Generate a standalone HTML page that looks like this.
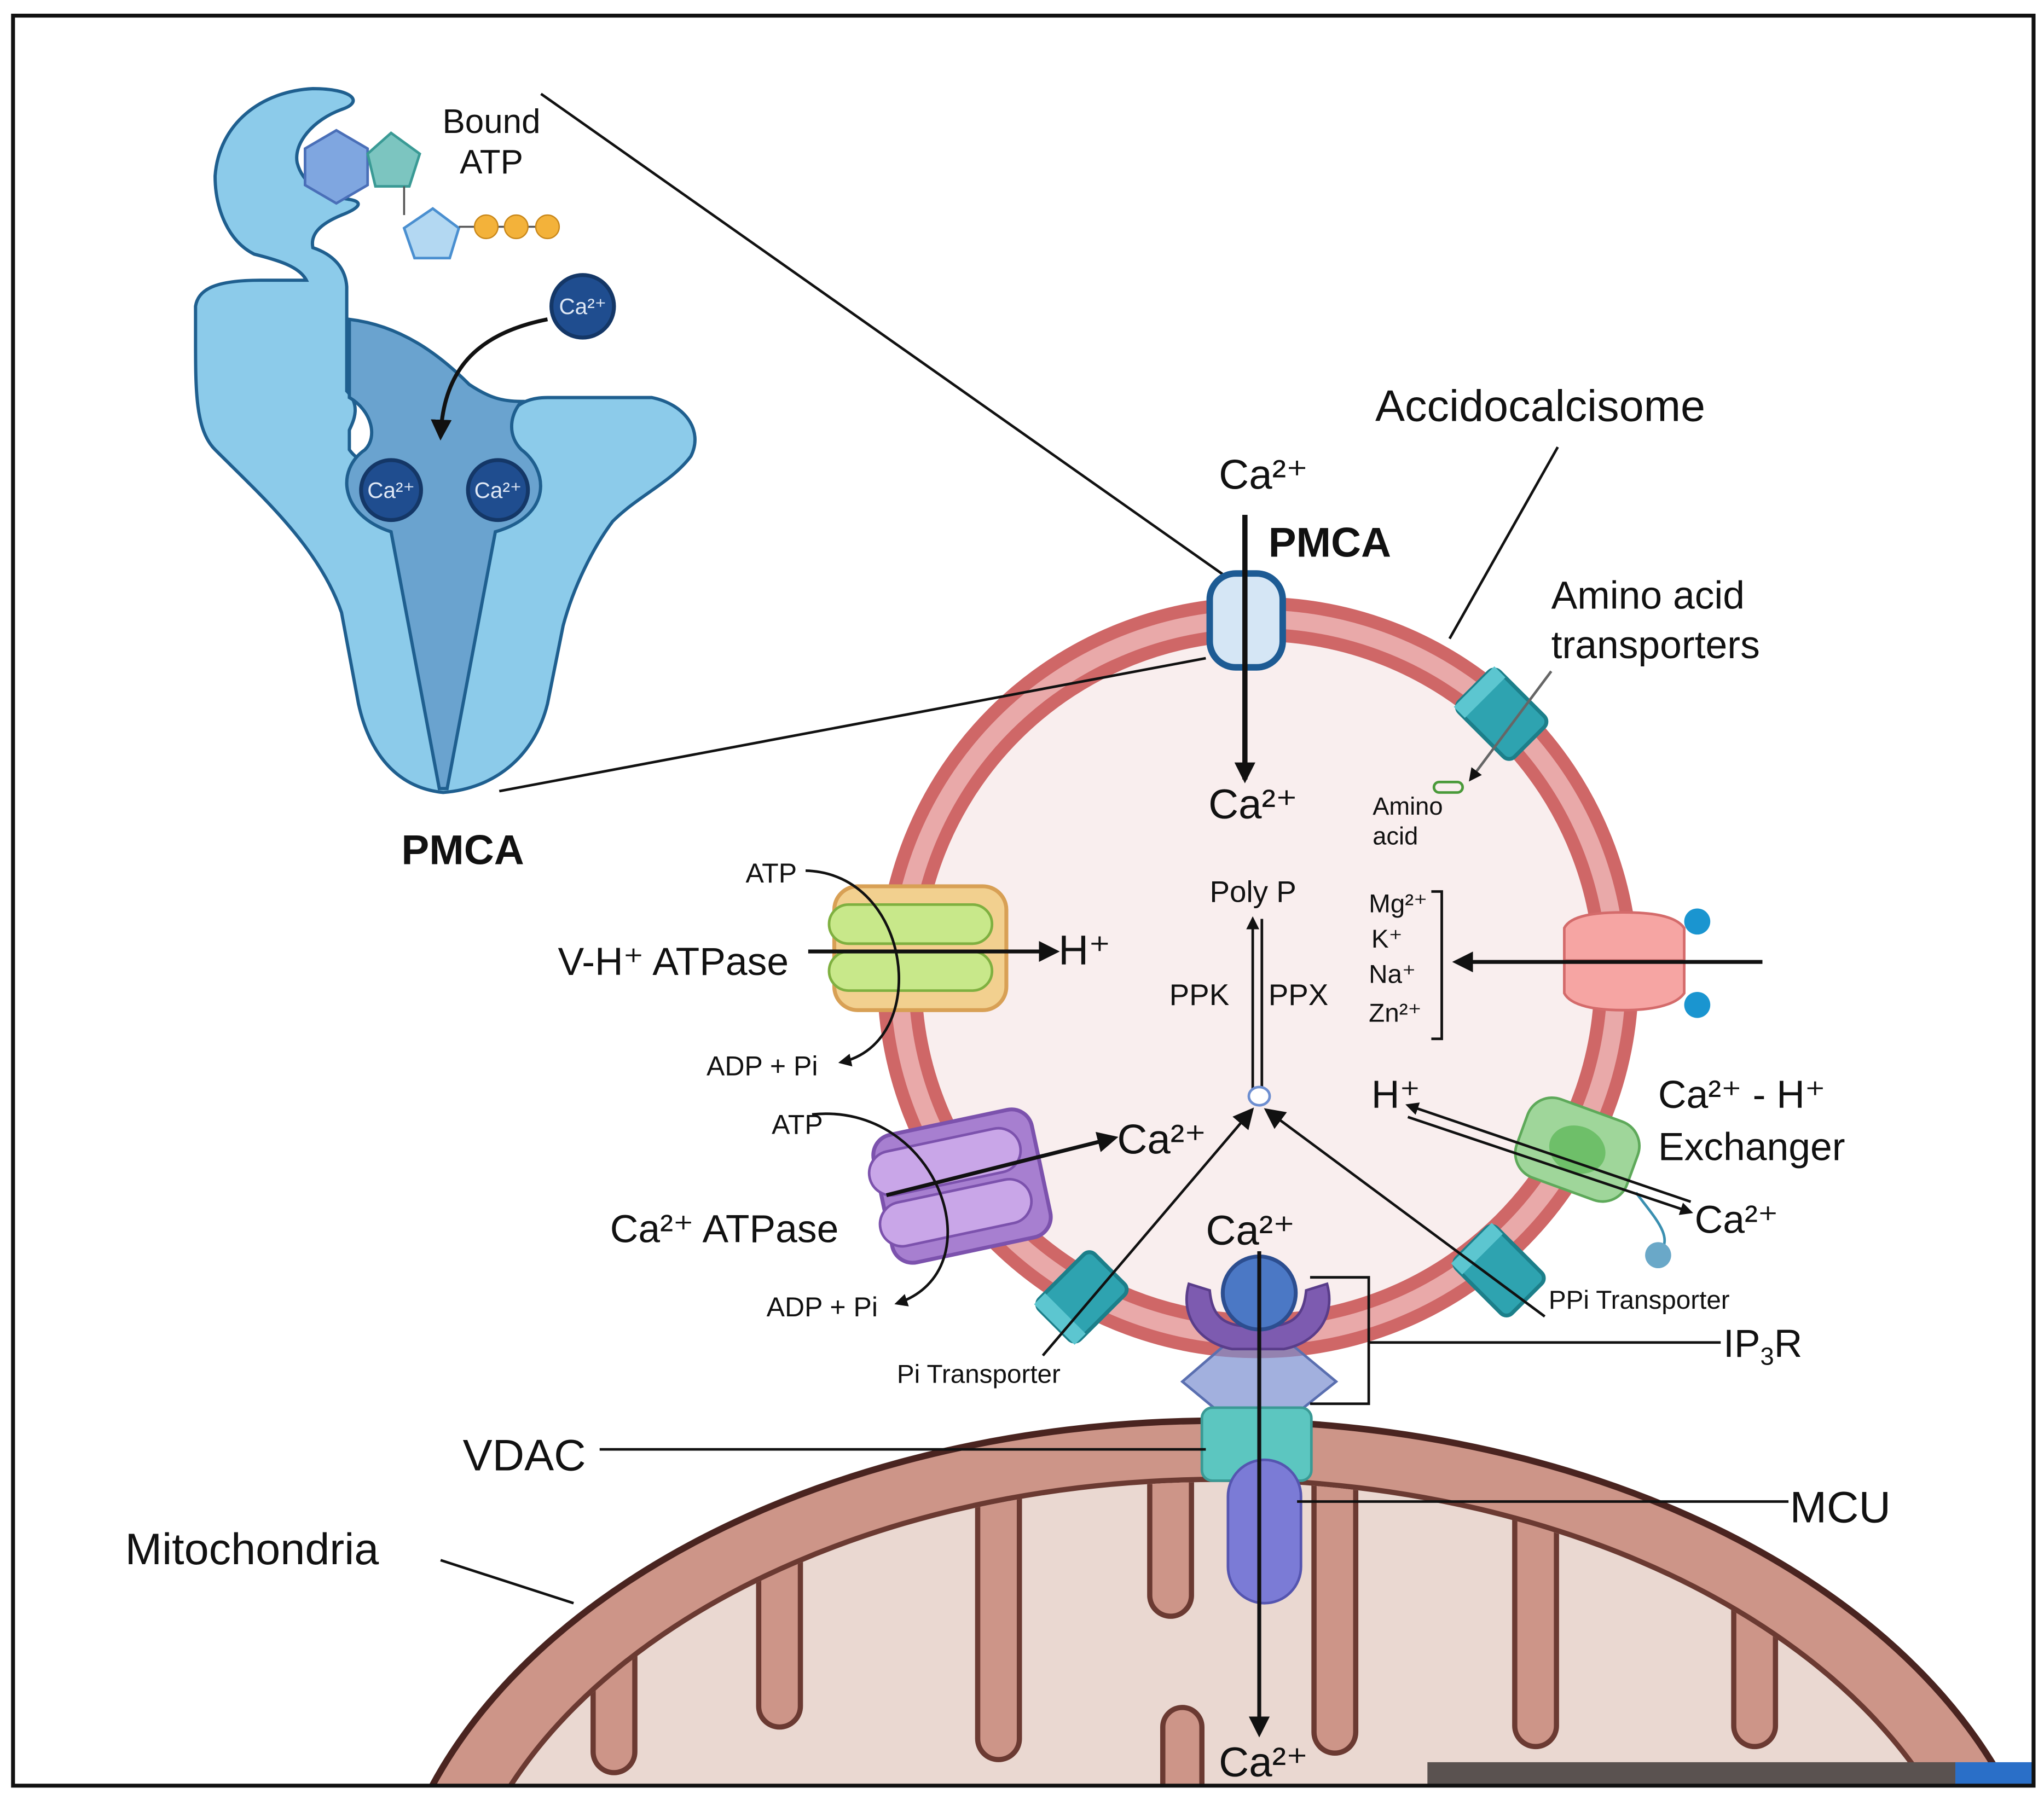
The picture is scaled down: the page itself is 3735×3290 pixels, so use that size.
<!DOCTYPE html>
<html><head><meta charset="utf-8"><style>
html,body{margin:0;padding:0;background:#fff;width:3735px;height:3290px;overflow:hidden}
svg{display:block}
text{font-family:"Liberation Sans",sans-serif;fill:#111}
</style></head><body>
<svg width="3735" height="3290" viewBox="0 0 1568 1381" preserveAspectRatio="none" xmlns="http://www.w3.org/2000/svg">
<defs>
<marker id="ah" markerWidth="10" markerHeight="10" refX="8" refY="5" orient="auto" markerUnits="userSpaceOnUse"><path d="M0,0 L10,5 L0,10 Z" fill="#111"/></marker>
<marker id="ahb" markerWidth="16" markerHeight="16" refX="13" refY="8" orient="auto" markerUnits="userSpaceOnUse"><path d="M0,0 L16,8 L0,16 Z" fill="#111"/></marker>
<clipPath id="frame"><rect x="10" y="12" width="1550" height="1358"/></clipPath>
<clipPath id="inner"><ellipse cx="935" cy="1520" rx="588" ry="383"/></clipPath>
</defs>
<rect width="1568" height="1381" fill="#fff"/>

<!-- Mitochondria -->
<g clip-path="url(#frame)">
<ellipse cx="935" cy="1510" rx="640" ry="420" fill="#cd9588" stroke="#4a2420" stroke-width="5"/>
<ellipse cx="935" cy="1520" rx="590" ry="385" fill="#ead8d1" stroke="#6b3a32" stroke-width="4"/>
<g clip-path="url(#inner)" fill="#cd9588" stroke="#6b3a32" stroke-width="4">
<rect x="455" y="1100" width="32" height="260" rx="16"/>
<rect x="582" y="1060" width="32" height="265" rx="16"/>
<rect x="750" y="1060" width="32" height="290" rx="16"/>
<rect x="882" y="1060" width="32" height="180" rx="16"/>
<rect x="1008" y="1060" width="32" height="285" rx="16"/>
<rect x="1162" y="1060" width="32" height="280" rx="16"/>
<rect x="1330" y="1100" width="32" height="240" rx="16"/>
<rect x="892" y="1310" width="30" height="120" rx="15"/>
</g>
<rect x="1095" y="1352" width="405" height="18" fill="#5a5250"/>
<rect x="1500" y="1352" width="60" height="18" fill="#2a6fc8"/>
</g>

<!-- Acidocalcisome -->
<circle cx="965" cy="750" r="275" fill="#f9eeee" stroke="#cf6767" stroke-width="34"/>
<circle cx="965" cy="750" r="275" fill="none" stroke="#e9a9a9" stroke-width="14"/>

<!-- zoom lines -->
<line x1="415" y1="72" x2="940" y2="442" stroke="#111" stroke-width="2"/>
<line x1="383" y1="607" x2="925" y2="505" stroke="#111" stroke-width="2"/>

<!-- PMCA big -->
<path d="M340,608 C310,605 285,585 275,540 L262,470 C245,420 200,380 165,345 C150,330 150,300 150,260 L150,235 C152,222 165,215 200,215 L235,215 C230,205 215,200 195,195 C175,185 165,160 165,135 C168,95 200,70 240,68 C270,68 280,78 262,84 C240,92 225,110 228,125 C232,140 245,150 268,153 C280,155 275,160 262,165 C245,172 238,180 240,190 C255,195 265,205 266,220 L266,300 C278,312 270,325 268,330 L268,345 C275,355 290,360 300,360 L390,340 C385,320 395,305 420,305 L500,305 C525,310 540,330 530,350 C515,370 490,380 470,400 C455,420 440,450 432,480 L420,540 C410,580 380,605 340,608 Z" fill="#8ccbea" stroke="#1f5f8f" stroke-width="2.5"/>
<path d="M268,245 C310,250 340,275 360,295 C375,305 385,308 400,308 C390,320 390,335 400,345 C420,360 425,395 380,408 L343,605 L337,605 L300,408 C260,395 258,360 280,345 C290,335 285,315 268,305 Z" fill="#6aa3cf" stroke="#1f5f8f" stroke-width="2.5"/>
<circle cx="300" cy="376" r="23" fill="#1f4d8f" stroke="#143767" stroke-width="3"/>
<circle cx="382" cy="376" r="23" fill="#1f4d8f" stroke="#143767" stroke-width="3"/>
<circle cx="447" cy="235" r="24" fill="#1f4d8f" stroke="#143767" stroke-width="3"/>
<text x="300" y="382" font-size="17" text-anchor="middle" style="fill:#dfe8f5">Ca²⁺</text>
<text x="382" y="382" font-size="17" text-anchor="middle" style="fill:#dfe8f5">Ca²⁺</text>
<text x="447" y="241" font-size="17" text-anchor="middle" style="fill:#dfe8f5">Ca²⁺</text>
<path d="M420,245 C370,255 340,280 338,335" fill="none" stroke="#111" stroke-width="3" marker-end="url(#ahb)"/>
<polygon points="258,100 282,114 282,142 258,156 234,142 234,114" fill="#7fa6e0" stroke="#4a6fb8" stroke-width="2"/>
<polygon points="300,102 322,118 314,143 288,143 282,118" fill="#7cc5c0" stroke="#3a9a95" stroke-width="2"/>
<line x1="310" y1="143" x2="310" y2="165" stroke="#555" stroke-width="1.5"/>
<polygon points="332,160 352,175 345,198 318,198 310,175" fill="#b3d8f2" stroke="#4a8fd0" stroke-width="2"/>
<line x1="352" y1="174" x2="422" y2="174" stroke="#555" stroke-width="1.5"/>
<circle cx="373" cy="174" r="9" fill="#f3b23a" stroke="#c8871a"/>
<circle cx="396" cy="174" r="9" fill="#f3b23a" stroke="#c8871a"/>
<circle cx="420" cy="174" r="9" fill="#f3b23a" stroke="#c8871a"/>
<text x="377" y="102" font-size="26" text-anchor="middle">Bound</text>
<text x="377" y="133" font-size="26" text-anchor="middle">ATP</text>
<text x="355" y="663" font-size="32" font-weight="bold" text-anchor="middle">PMCA</text>

<!-- PMCA small on membrane -->
<rect x="928" y="440" width="56" height="72" rx="20" fill="#d5e6f5" stroke="#1d5b94" stroke-width="5"/>
<line x1="955" y1="395" x2="955" y2="598" stroke="#111" stroke-width="4" marker-end="url(#ahb)"/>
<text x="935" y="375" font-size="32">Ca²⁺</text>
<text x="973" y="427" font-size="32" font-weight="bold">PMCA</text>
<text x="927" y="628" font-size="32">Ca²⁺</text>
<text x="1055" y="323" font-size="34">Accidocalcisome</text>
<line x1="1195" y1="343" x2="1112" y2="490" stroke="#111" stroke-width="2"/>

<!-- teal transporters -->
<g transform="translate(1152,548) rotate(45)"><rect x="-30" y="-22" width="60" height="44" rx="6" fill="#2ea3b0" stroke="#1c7f8a" stroke-width="3"/><rect x="-30" y="-22" width="12" height="44" fill="#5cc6d0"/></g>
<g transform="translate(830,995) rotate(-45)"><rect x="-30" y="-22" width="60" height="44" rx="6" fill="#2ea3b0" stroke="#1c7f8a" stroke-width="3"/><rect x="-30" y="-22" width="12" height="44" fill="#5cc6d0"/></g>
<g transform="translate(1150,975) rotate(45)"><rect x="-30" y="-22" width="60" height="44" rx="6" fill="#2ea3b0" stroke="#1c7f8a" stroke-width="3"/><rect x="-30" y="-22" width="12" height="44" fill="#5cc6d0"/></g>
<line x1="1190" y1="515" x2="1128" y2="598" stroke="#666" stroke-width="2" marker-end="url(#ah)"/>
<rect x="1100" y="600" width="22" height="8" rx="4" fill="none" stroke="#4a9a3a" stroke-width="2"/>
<text x="1190" y="467" font-size="30">Amino acid</text>
<text x="1190" y="505" font-size="30">transporters</text>
<text x="1053" y="625" font-size="19">Amino</text>
<text x="1053" y="648" font-size="19">acid</text>

<!-- V-H+ ATPase -->
<rect x="640" y="680" width="132" height="95" rx="18" fill="#f2d08f" stroke="#d8a055" stroke-width="3"/>
<rect x="636" y="694" width="125" height="30" rx="15" fill="#c8e88a" stroke="#7fb040" stroke-width="2"/>
<rect x="636" y="730" width="125" height="30" rx="15" fill="#c8e88a" stroke="#7fb040" stroke-width="2"/>
<line x1="620" y1="730" x2="810" y2="730" stroke="#111" stroke-width="3" marker-end="url(#ahb)"/>
<path d="M618,668 C700,670 715,800 645,815" fill="none" stroke="#111" stroke-width="2" marker-end="url(#ah)"/>
<text x="572" y="677" font-size="21">ATP</text>
<text x="542" y="825" font-size="21">ADP + Pi</text>
<text x="428" y="748" font-size="30">V-H⁺ ATPase</text>
<text x="812" y="740" font-size="32">H⁺</text>

<!-- Ca ATPase -->
<g transform="translate(738,910) rotate(-12)">
<rect x="-62" y="-50" width="124" height="100" rx="16" fill="#a77fd0" stroke="#7c52ad" stroke-width="3"/>
<rect x="-68" y="-38" width="118" height="34" rx="17" fill="#c9a6e8" stroke="#7c52ad" stroke-width="2"/>
<rect x="-68" y="2" width="118" height="34" rx="17" fill="#c9a6e8" stroke="#7c52ad" stroke-width="2"/>
</g>
<line x1="680" y1="917" x2="855" y2="873" stroke="#111" stroke-width="3" marker-end="url(#ahb)"/>
<path d="M623,855 C720,845 765,975 688,1000" fill="none" stroke="#111" stroke-width="2" marker-end="url(#ah)"/>
<text x="592" y="870" font-size="21">ATP</text>
<text x="588" y="1010" font-size="21">ADP + Pi</text>
<text x="468" y="953" font-size="30">Ca²⁺ ATPase</text>
<text x="857" y="885" font-size="32">Ca²⁺</text>

<!-- Poly P -->
<text x="928" y="692" font-size="23">Poly P</text>
<line x1="961" y1="845" x2="961" y2="705" stroke="#111" stroke-width="2" marker-end="url(#ah)"/>
<line x1="968" y1="705" x2="968" y2="845" stroke="#111" stroke-width="2" marker-end="url(#ah)"/>
<text x="897" y="771" font-size="23">PPK</text>
<text x="973" y="771" font-size="23">PPX</text>
<ellipse cx="966" cy="841" rx="8" ry="7" fill="#fff" stroke="#6d8ed0" stroke-width="2"/>
<line x1="800" y1="1040" x2="960" y2="852" stroke="#111" stroke-width="2" marker-end="url(#ahb)"/>
<line x1="1185" y1="1010" x2="972" y2="852" stroke="#111" stroke-width="2" marker-end="url(#ahb)"/>
<text x="688" y="1061" font-size="20">Pi Transporter</text>
<text x="1188" y="1004" font-size="20">PPi Transporter</text>

<!-- ion bracket -->
<text x="1050" y="700" font-size="20">Mg²⁺</text>
<text x="1052" y="727" font-size="20">K⁺</text>
<text x="1050" y="754" font-size="20">Na⁺</text>
<text x="1050" y="784" font-size="20">Zn²⁺</text>
<path d="M1098,684 L1106,684 L1106,797 L1098,797" fill="none" stroke="#111" stroke-width="2"/>
<path d="M1245,700 C1225,700 1205,702 1200,712 L1200,762 C1205,772 1225,775 1245,775 C1265,775 1285,772 1292,762 L1292,712 C1285,702 1265,700 1245,700 Z" fill="#f6a5a3" stroke="#d46b6b" stroke-width="2"/>
<line x1="1200" y1="737" x2="1292" y2="737" stroke="#d46b6b" stroke-width="2"/>
<circle cx="1302" cy="707" r="10" fill="#1a95d0"/>
<circle cx="1302" cy="771" r="10" fill="#1a95d0"/>
<line x1="1352" y1="738" x2="1117" y2="738" stroke="#111" stroke-width="3" marker-end="url(#ahb)"/>

<!-- Ca-H exchanger -->
<g transform="translate(1210,882) rotate(20)"><rect x="-45" y="-32" width="90" height="64" rx="20" fill="#9fd69a" stroke="#5ea95a" stroke-width="2"/><ellipse cx="0" cy="0" rx="22" ry="18" fill="#6ebf69"/></g>
<path d="M1255,915 C1270,935 1285,950 1272,962" fill="none" stroke="#3a8fb0" stroke-width="2"/>
<circle cx="1272" cy="963" r="10" fill="#6aa8c8"/>
<line x1="1297" y1="922" x2="1080" y2="848" stroke="#111" stroke-width="2" marker-end="url(#ah)"/>
<line x1="1080" y1="857" x2="1297" y2="930" stroke="#111" stroke-width="2" marker-end="url(#ah)"/>
<text x="1052" y="850" font-size="30">H⁺</text>
<text x="1300" y="946" font-size="30">Ca²⁺</text>
<text x="1272" y="850" font-size="30">Ca²⁺ - H⁺</text>
<text x="1272" y="890" font-size="30">Exchanger</text>

<!-- IP3R / VDAC / MCU -->
<polygon points="965,1010 1025,1060 965,1108 907,1060" fill="#7a8fd0" fill-opacity="0.7" stroke="#5a6fb0" stroke-width="2"/>
<path d="M912,985 C905,1010 920,1030 945,1035 L985,1035 C1010,1030 1025,1010 1018,985 L1002,990 C1000,1012 990,1018 965,1018 C940,1018 930,1012 928,990 Z" fill="#7d5bb0" stroke="#5a3d8a" stroke-width="2"/>
<circle cx="966" cy="992" r="28" fill="#4b78c5" stroke="#2c4e90" stroke-width="3"/>
<rect x="922" y="1080" width="84" height="56" rx="8" fill="#5cc6c0" stroke="#3a9a95" stroke-width="2"/>
<rect x="942" y="1120" width="56" height="110" rx="28" fill="#7b7bd6" stroke="#5555b0" stroke-width="2"/>
<line x1="966" y1="960" x2="966" y2="1330" stroke="#111" stroke-width="3" marker-end="url(#ahb)"/>
<text x="925" y="955" font-size="32">Ca²⁺</text>
<text x="935" y="1363" font-size="32">Ca²⁺</text>
<path d="M1005,980 L1050,980 L1050,1077 L1005,1077" fill="none" stroke="#111" stroke-width="2"/>
<line x1="1050" y1="1030" x2="1320" y2="1030" stroke="#111" stroke-width="2"/>
<text x="1322" y="1041" font-size="30">IP<tspan font-size="19" dy="6">3</tspan><tspan dy="-6">R</tspan></text>
<line x1="460" y1="1112" x2="925" y2="1112" stroke="#111" stroke-width="2"/>
<text x="355" y="1128" font-size="34">VDAC</text>
<line x1="995" y1="1152" x2="1372" y2="1152" stroke="#111" stroke-width="2"/>
<text x="1373" y="1168" font-size="34">MCU</text>
<line x1="338" y1="1197" x2="440" y2="1230" stroke="#111" stroke-width="2"/>
<text x="96" y="1200" font-size="34">Mitochondria</text>

<rect x="10" y="12" width="1550" height="1358" fill="none" stroke="#111" stroke-width="3"/>
</svg>
</body></html>
